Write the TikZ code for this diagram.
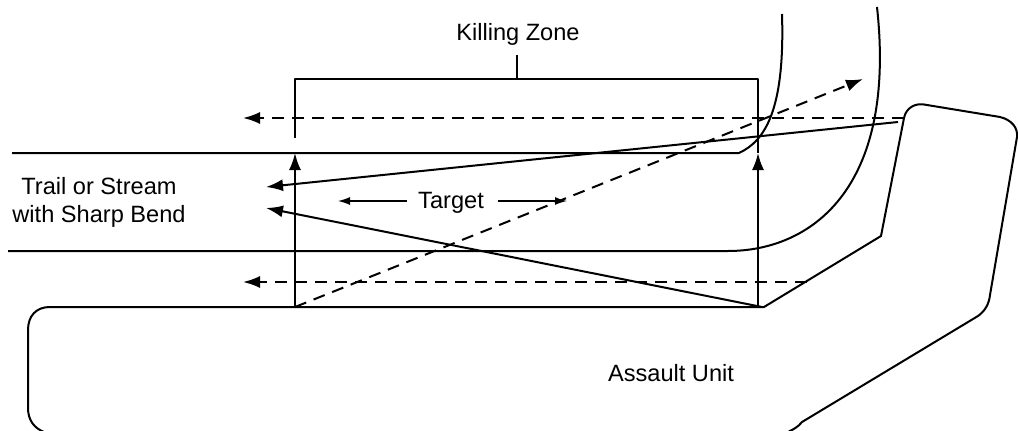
\documentclass[tikz,border=0pt]{standalone}
\usepackage{fontspec}
\setmainfont{Liberation Sans}
\usetikzlibrary{arrows.meta}
\tikzset{
  ln/.style={draw=black,line width=2pt,line join=round},
  arw/.style={ln,-{Latex[length=17pt,width=12pt]}},
  thinarw/.style={draw=black,line width=1.3pt,-{Latex[length=12pt,width=8pt]}},
  dsh/.style={arw,dash pattern=on 12pt off 8pt},
  lbl/.style={font=\fontsize{23.6}{28}\selectfont,inner sep=0pt,align=center,text=black}
}
\begin{document}
\begin{tikzpicture}[x=1pt,y=-1pt]
\useasboundingbox (0,0) rectangle (1018,431);
\clip (0,0) rectangle (1018,431);
% labels
\node[lbl] (kz) at (518,34.5) {Killing Zone};
\node[lbl] (trail) at (99,202) {Trail or Stream\\with Sharp Bend};
\node[lbl] (target) at (451,203) {Target};
\node[lbl] (unit) at (671,373) {Assault Unit};
% coordinates
\coordinate (bl) at (295,307);
\coordinate (br) at (758,307);
\coordinate (tipL) at (295,153);
\coordinate (tipR) at (758,153);
\coordinate (kzL) at (295,138);
\coordinate (kzLt) at (295,79);
\coordinate (kzRt) at (758,79);
\coordinate (kzT) at (517,79);
\coordinate (kzTop) at (517,55);
\coordinate (d1s) at (904,118);
\coordinate (d1e) at (243,118);
\coordinate (d2s) at (807,282);
\coordinate (d2e) at (243,282);
\coordinate (d3e) at (863,79);
\coordinate (s1s) at (898,122);
\coordinate (s1e) at (266,187);
\coordinate (s2s) at (762,307);
\coordinate (s2e) at (266,208);
\coordinate (tL) at (338,201);
\coordinate (tR) at (567,201);
% assault unit
\draw[ln] (904,118) .. controls (906,108) and (915,102) .. (927,105)
  -- (1000,117) .. controls (1012,120) and (1018,128) .. (1017,137)
  -- (990,295) .. controls (989,304) and (985,311) .. (978,316)
  -- (802,422) .. controls (798,427) and (794,429) .. (788,432);
\draw[ln] (904,118) -- (881,236) -- (764,307) -- (50,307)
  .. controls (36,307) and (28,316) .. (28,330) -- (28,408)
  .. controls (28,420) and (34,428) .. (44,432);
% trail
\draw[ln] (12,153) -- (739,153) .. controls (765,141) and (785,110) .. (782,14);
\draw[ln] (8,251) -- (728,251) .. controls (810,251) and (897,190) .. (877,7);
% killing zone bracket
\draw[ln] (kzL) -- (kzLt) -- (kzRt) -- (tipR);
\draw[ln] (kzT) -- (kzTop);
% fields of fire
\draw[arw] (bl) -- (tipL);
\draw[arw] (br) -- (tipR);
\draw[arw] (s1s) -- (s1e);
\draw[arw] (s2s) -- (s2e);
\draw[dsh] (d1s) -- (d1e);
\draw[dsh] (d2s) -- (d2e);
\draw[dsh] (bl) -- (d3e);
% target arrows
\draw[thinarw] (407,201) -- (tL);
\draw[thinarw] (498,201) -- (tR);
\end{tikzpicture}
\end{document}
